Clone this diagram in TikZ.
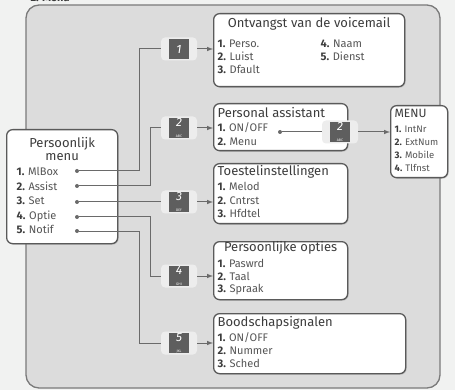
\documentclass[tikz,border=0pt]{standalone}
\usepackage{fontspec}
\setmainfont{Fira Sans}
\usetikzlibrary{positioning}
\usetikzlibrary{shadows}

\definecolor{pagebg}{HTML}{F1F2F1}
\definecolor{panelbg}{HTML}{DCDCDC}
\definecolor{panelline}{HTML}{7A7A7A}
\definecolor{boxline}{HTML}{5A5A5A}
\definecolor{txt}{HTML}{3C3C3C}
\definecolor{itemtxt}{HTML}{555555}
\definecolor{keydark}{HTML}{5E5E5E}
\definecolor{keylight}{HTML}{EDEDED}
\definecolor{conn}{HTML}{6A6A6A}

\newcommand{\itm}[2]{{\bfseries\color{txt}#1.}~#2}
\newcommand{\ttl}[1]{{\fontsize{13}{13}\selectfont\color{txt}#1}}
\newcommand{\midttl}[1]{\leavevmode\hbox to\hsize{\hfil\ttl{#1}\hfil}}
\newcommand{\keylbl}[2]{{\fontsize{12}{10}\selectfont\itshape #1}\\[-1pt]{\fontsize{3.5}{4}\selectfont #2}}

\tikzset{
  menubox/.style={draw=boxline, line width=1.3pt, fill=white, rounded corners=6pt,
    anchor=north west, inner xsep=4pt, inner ysep=0pt, align=left, text=itemtxt,
    drop shadow={shadow xshift=1pt, shadow yshift=-1pt, opacity=0.4}},
  keybg/.style={fill=keylight, rounded corners=4pt, minimum width=36pt, minimum height=23pt, inner sep=0pt},
  keyface/.style={fill=keydark, minimum width=20pt, minimum height=20pt, inner sep=0pt, text=white, align=center},
  dot/.style={circle, fill=conn, inner sep=0pt, minimum size=4pt},
  line/.style={draw=conn, line width=1pt},
  arr/.style={line, -latex}
}

\begin{document}
\begin{tikzpicture}[x=1pt, y=-1pt]
\useasboundingbox[fill=pagebg] (0,0) rectangle (455,390);
\node[anchor=base west, font=\fontsize{11}{13}\selectfont\bfseries, text=txt] (hdr) at (27,2) {2. Menu};
\draw[draw=panelline, fill=panelbg, line width=1.3pt, rounded corners=13pt] (26,5) rectangle (440,388);

\node[menubox, text width=103pt, inner xsep=4pt, text height=18pt, text depth=96pt,
  font=\fontsize{11}{14.5}\selectfont] (pm) at (6,129) {%
  \midttl{Persoonlijk}\\[-1.5pt]
  \midttl{menu}\\[0.5pt]
  \hspace{6pt}\itm{1}{MlBox}\\
  \hspace{6pt}\itm{2}{Assist}\\
  \hspace{6pt}\itm{3}{Set}\\
  \hspace{6pt}\itm{4}{Optie}\\
  \hspace{6pt}\itm{5}{Notif}};

\node[menubox, text width=183pt, text height=14pt, text depth=59pt,
  font=\fontsize{11}{13}\selectfont] (b1) at (213,13) {%
  \midttl{Ontvangst van de voicemail}\\[7pt]
  \makebox[103pt][l]{\itm{1}{Perso.}}\itm{4}{Naam}\\
  \makebox[103pt][l]{\itm{2}{Luist}}\itm{5}{Dienst}\\
  \itm{3}{Dfault}};

\node[menubox, text width=126pt, text height=14pt, text depth=33pt,
  font=\fontsize{11}{14}\selectfont] (b2) at (213,103) {%
  \ttl{Personal assistant}\\
  \itm{1}{ON/OFF}\\
  \itm{2}{Menu}};

\node[menubox, text width=126pt, text height=12pt, text depth=48pt,
  font=\fontsize{11}{13.5}\selectfont] (b3) at (213,163) {%
  \ttl{Toestelinstellingen}\\[1.5pt]
  \itm{1}{Melod}\\
  \itm{2}{Cntrst}\\
  \itm{3}{Hfdtel}};

\node[menubox, text width=126pt, text height=10pt, text depth=48pt,
  font=\fontsize{11}{12.5}\selectfont] (b4) at (213,241) {%
  \midttl{Persoonlijke opties}\\[3.5pt]
  \itm{1}{Paswrd}\\
  \itm{2}{Taal}\\
  \itm{3}{Spraak}};

\node[menubox, text width=184pt, text height=13pt, text depth=47pt,
  font=\fontsize{11}{13}\selectfont] (b5) at (213,313) {%
  \ttl{Boodschapsignalen}\\[2pt]
  \itm{1}{ON/OFF}\\
  \itm{2}{Nummer}\\
  \itm{3}{Sched}};

\node[menubox, text width=49pt, text height=12pt, text depth=60pt,
  font=\fontsize{9.5}{13}\selectfont] (menu) at (390,105) {%
  {\fontsize{12}{13}\selectfont\color{txt}MENU}\\[2pt]
  \itm{1}{IntNr}\\
  \itm{2}{ExtNum}\\
  \itm{3}{Mobile}\\
  \itm{4}{Tlfnst}};

\node[dot] (d1) at (77,171) {};
\node[dot] (d2) at (77,186) {};
\node[dot] (d3) at (77,202) {};
\node[dot] (d4) at (77,217) {};
\node[dot] (d5) at (77,231) {};
\node[dot] (d6) at (280,132) {};

\node[keybg] (k1) at (179,49) {};
\node[keyface] (k1f) at (k1) {\fontsize{12}{10}\selectfont\itshape 1};
\node[keybg] (k2) at (179,128) {};
\node[keyface] (k2f) at (k2) {\keylbl{2}{ABC}};
\node[keybg] (k3) at (179,202) {};
\node[keyface] (k3f) at (k3) {\keylbl{3}{DEF}};
\node[keybg] (k4) at (179,276) {};
\node[keyface] (k4f) at (k4) {\keylbl{4}{GHI}};
\node[keybg] (k5) at (179,343) {};
\node[keyface] (k5f) at (k5) {\keylbl{5}{JKL}};
\node[keybg] (k6) at (340,132) {};
\node[keyface] (k6f) at (k6) {\keylbl{2}{ABC}};

\draw[line] (d1) -| ([xshift=-21pt]k1.west) -- (k1.west);
\draw[line] (d2) -| ([xshift=-10pt]k2.west) -- (k2.west);
\draw[line] (d3) -- (k3.west);
\draw[line] (d4) -| ([xshift=-10pt]k4.west) -- (k4.west);
\draw[line] (d5) -| ([xshift=-21pt]k5.west) -- (k5.west);
\draw[line] (d6) -- (k6.west);
\draw[arr] (k1.east) -- (k1.east -| b1.west);
\draw[arr] (k2.east) -- (k2.east -| b2.west);
\draw[arr] (k3.east) -- (k3.east -| b3.west);
\draw[arr] (k4.east) -- (k4.east -| b4.west);
\draw[arr] (k5.east) -- (k5.east -| b5.west);
\draw[arr] (k6.east) -- (k6.east -| menu.west);
\end{tikzpicture}
\end{document}
